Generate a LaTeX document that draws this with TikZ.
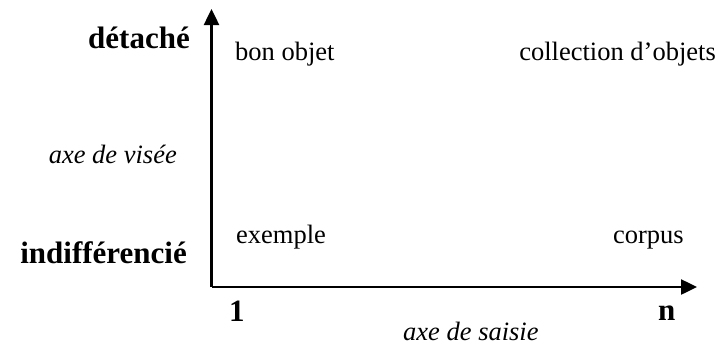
\documentclass[tikz,border=0pt]{standalone}
\usepackage{fontspec}
\setmainfont{Liberation Serif}
\usetikzlibrary{arrows.meta}
\begin{document}
\begin{tikzpicture}[x=1pt,y=-1pt,
  lbl/.style={inner sep=0pt,font=\fontsize{26.5}{30}\selectfont},
  blbl/.style={inner sep=0pt,font=\fontsize{31}{36}\selectfont\bfseries},
  ilbl/.style={inner sep=0pt,font=\fontsize{26.5}{30}\selectfont\itshape},
  axis/.style={line width=2.5pt,-{Triangle[length=16pt,width=15pt]}}]
\useasboundingbox (0,0) rectangle (718,346);
\coordinate (O) at (211.5,287);
\coordinate (Ytop) at (211.5,9);
\coordinate (Xend) at (697,287);
\draw[axis] (O) -- (Ytop);
\draw[axis] (O) -- (Xend);
\node[blbl,anchor=base east] (det) at (190,48) {détaché};
\node[blbl,anchor=base east] (ind) at (187,263) {indifférencié};
\node[ilbl,anchor=base east] (vis) at (177,163) {axe de visée};
\node[lbl,anchor=base west] (bon) at (235,60) {bon objet};
\node[lbl,anchor=base east] (col) at (716,60) {collection d’objets};
\node[lbl,anchor=base west] (ex) at (236,243) {exemple};
\node[lbl,anchor=base east] (cor) at (684,243) {corpus};
\node[blbl,anchor=base west] (one) at (229,321) {1};
\node[blbl,anchor=base west] (n) at (658,320) {n};
\node[ilbl,anchor=base west] (sai) at (403,340) {axe de saisie};
\end{tikzpicture}
\end{document}
